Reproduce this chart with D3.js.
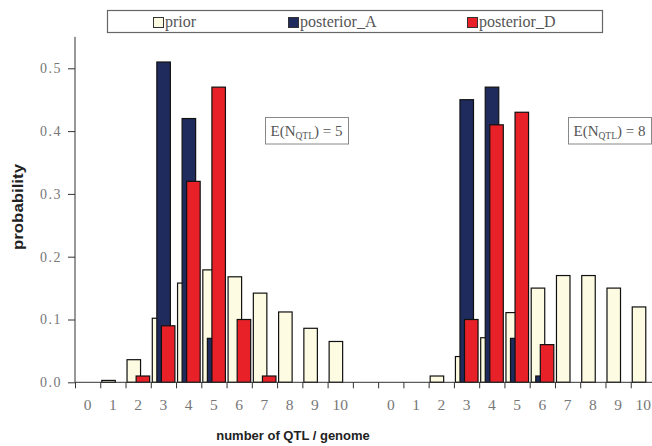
<!DOCTYPE html>
<html>
<head>
<meta charset="utf-8">
<script src="https://cdn.jsdelivr.net/npm/d3@7"></script>
<style>
  html, body { margin: 0; padding: 0; background: #fff; }
  svg { display: block; }
</style>
</head>
<body>
<svg id="chart" width="652" height="446"></svg>
<script>
// ---- data ----
const nQTL = ["0","1","2","3","4","5","6","7","8","9","10"];
const seriesNames = ["prior", "posterior_A", "posterior_D"];
// panel E(N_QTL) = 5
const prior_E5 = [0, 0.003, 0.036, 0.102, 0.158, 0.179, 0.168, 0.142, 0.112, 0.086, 0.065];
const postA_E5 = [0, 0, 0, 0.51, 0.42, 0.07, 0, 0, 0, 0, 0];
const postD_E5 = [0, 0, 0.01, 0.09, 0.32, 0.47, 0.10, 0.01, 0, 0, 0];
// panel E(N_QTL) = 8
const prior_E8 = [0, 0, 0.01, 0.041, 0.071, 0.111, 0.15, 0.17, 0.17, 0.15, 0.12];
const postA_E8 = [0, 0, 0, 0.45, 0.47, 0.07, 0.01, 0, 0, 0, 0];
const postD_E8 = [0, 0, 0, 0.10, 0.41, 0.43, 0.06, 0, 0, 0, 0];
const panelLabels = ["5", "8"];
const yTicks = [0, 0.1, 0.2, 0.3, 0.4, 0.5];

(function () {
// ---- layout ----
const SERIF = "'Liberation Serif', 'Times New Roman', serif";
const SANS = "'Liberation Sans', Arial, sans-serif";
const colors = { "prior": "#FDFBE2", "posterior_A": "#1E2B5C", "posterior_D": "#E82128" };
const svg = d3.select("#chart");
const pLeft = 75, pRight = 656, pBottom = 382.3, pTop = 36.9;

// 23 slots: 0..10, gap, 0..10
const slots = d3.range(23);
const x = d3.scaleBand().domain(slots).range([pLeft, pRight]).padding(0);
const xb = d3.scaleLinear().domain([0, 23]).range([pLeft, pRight]);
const y = d3.scaleLinear().domain([0, 0.55]).range([pBottom, pTop]);

function slotLabel(i) {
  if (i < 11) return nQTL[i];
  if (i === 11) return "";
  return nQTL[i - 12];
}

// build bar records
const panels = [
  { offset: 0, series: [prior_E5, postA_E5, postD_E5] },
  { offset: 12, series: [prior_E8, postA_E8, postD_E8] }
];
const bars = [];
seriesNames.forEach((name, si) => {
  panels.forEach(p => {
    p.series[si].forEach((v, i) => {
      if (v > 0) bars.push({ name, si, slot: p.offset + i, value: v });
    });
  });
});

const bw = x.bandwidth();
const barW = bw * 0.535;
const offs = [0.06, 0.24, 0.42];

svg.append("g").selectAll("rect")
  .data(bars)
  .join("rect")
  .attr("x", d => x(d.slot) + bw * offs[d.si])
  .attr("y", d => y(d.value))
  .attr("width", barW)
  .attr("height", d => pBottom - y(d.value))
  .attr("fill", d => colors[d.name])
  .attr("stroke", "#111")
  .attr("stroke-width", 1.2);

// y axis
const yAxis = svg.append("g")
  .attr("transform", `translate(${pLeft},0)`)
  .call(d3.axisLeft(y).tickValues(yTicks).tickFormat(d3.format(".1f")).tickSize(7).tickPadding(6));
yAxis.select(".domain").attr("stroke", "#333").attr("d", `M0,${pTop}V${pBottom}`);
yAxis.selectAll(".tick line").attr("stroke", "#333");
yAxis.selectAll(".tick text")
  .attr("font-family", SERIF)
  .attr("font-size", 14)
  .attr("letter-spacing", "1.5px")
  .attr("fill", "#777");

// x axis boundary ticks
const xTickAxis = svg.append("g")
  .attr("transform", `translate(0,${pBottom})`)
  .call(d3.axisBottom(xb).tickValues(d3.range(24)).tickFormat("").tickSize(6));
xTickAxis.select(".domain").attr("stroke", "#333").attr("d", `M${pLeft},0H${pRight}`);
xTickAxis.selectAll(".tick line").attr("stroke", "#333");

// x labels
const xLab = svg.append("g")
  .attr("transform", `translate(0,${pBottom})`)
  .call(d3.axisBottom(x).tickFormat(slotLabel).tickSize(0).tickPadding(17));
xLab.select(".domain").remove();
xLab.selectAll(".tick text")
  .attr("font-family", SERIF)
  .attr("font-size", 15.5)
  .attr("fill", "#777");

// axis titles
svg.append("text")
  .attr("x", 293).attr("y", 440)
  .attr("text-anchor", "middle")
  .attr("font-family", SANS)
  .attr("font-weight", "bold")
  .attr("font-size", 13)
  .attr("fill", "#222")
  .text("number of QTL / genome");

svg.append("text")
  .attr("transform", "translate(23,207) rotate(-90)")
  .attr("text-anchor", "middle")
  .attr("font-family", SANS)
  .attr("font-weight", "bold")
  .attr("font-size", 14)
  .attr("textLength", 86)
  .attr("lengthAdjust", "spacingAndGlyphs")
  .attr("fill", "#222")
  .text("probability");

// legend
const legend = svg.append("g");
legend.append("rect")
  .attr("x", 107.5).attr("y", 10.5).attr("width", 495).attr("height", 22)
  .attr("fill", "#fff").attr("stroke", "#666").attr("stroke-width", 1.2);
const legendX = [153, 288, 467];
seriesNames.forEach((name, i) => {
  legend.append("rect")
    .attr("x", legendX[i] + 0.5).attr("y", 17.5).attr("width", 10).attr("height", 10)
    .attr("fill", colors[name]).attr("stroke", "#333").attr("stroke-width", 1);
  legend.append("text")
    .attr("x", legendX[i] + 12).attr("y", 27)
    .attr("font-family", SERIF)
    .attr("font-size", 16)
    .attr("fill", "#555")
    .text(name);
});

// panel annotations
const annX = [265.5, 568.5];
panelLabels.forEach((lab, i) => {
  const g = svg.append("g");
  g.append("rect")
    .attr("x", annX[i]).attr("y", 117.5).attr("width", 83).attr("height", 26.5)
    .attr("fill", "#fff").attr("stroke", "#888").attr("stroke-width", 1);
  const t = g.append("text")
    .attr("x", annX[i] + 5).attr("y", 136)
    .attr("font-family", SERIF)
    .attr("font-size", 15)
    .attr("fill", "#555");
  t.append("tspan").text("E(N");
  t.append("tspan").attr("font-size", 9.5).attr("dy", 3).text("QTL");
  t.append("tspan").attr("dy", -3).text(") = " + lab);
});
})();
</script>
</body>
</html>
